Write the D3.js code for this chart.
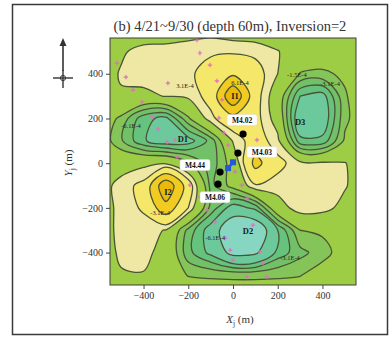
<!DOCTYPE html>
<html>
<head>
<meta charset="utf-8">
<script src="https://cdn.jsdelivr.net/npm/d3@7"></script>
<style>
  body { margin: 0; background: #fff; }
  svg { display: block; }
</style>
</head>
<body>
<svg id="chart" width="392" height="338"></svg>
<script>
// ---------- data ----------
const titleText = "(b) 4/21~9/30 (depth 60m), Inversion=2";

// grid nodes of the anomaly field (m)
const gridX = [-600, -500, -400, -300, -200, -100, 0, 100, 200, 300, 400, 500, 600];
const gridY = [600, 500, 400, 300, 200, 100, 0, -100, -200, -300, -400, -500, -600];

// field values at the grid nodes, units of 1E-4, northern row first
const fieldRows = [
  [0,   -0.3, -0.2, -0.1,  0.5,  0.8,  0.2,  0.0, -0.2,  0,    0,    0,   0],
  [0,    1.2,  2.2,  2.3,  2.4,  2.6,  2.7,  2.5,  1.6,  0.2, -0.3,  0,   0],
  [0.3,  1.7,  2.3,  2.4,  2.5,  4.2,  5.5,  4.0,  1.5, -1.6, -1.8, -1.2, 0],
  [0.2,  1.3,  1.0,  1.6,  1.9,  3.8, 12.0,  4.0,  0.0, -6.0, -6.8, -1.7, 0],
  [0,   -1.9, -5.5, -6.5, -1.8,  2.5,  4.8,  3.8,  0.5, -8.0, -7.5, -1.9, 0],
  [0,   -2.8, -5.8, -7.2, -6.8, -4.0,  1.7,  4.2,  2.0, -5.5, -5.5, -1.2, 0],
  [0.2,  0.5,  1.0,  1.2, -1.0, -4.0, -0.5,  7.0,  3.6,  2.0,  1.8,  1.6, 0],
  [0.5,  2.2,  3.6, 11.5,  4.5, -3.5, -0.8,  2.8,  2.3,  2.3,  2.1,  1.7, 0],
  [0.5,  2.0,  3.3,  8.0,  3.0, -3.5, -7.0, -5.5,  0.5,  2.4,  2.2,  0.8, 0],
  [0.5,  2.0,  2.1,  1.4, -3.5, -7.0, -12.0, -12.0, -6.0, -1.5, -1.2, -0.3, 0],
  [0.5,  1.8,  2.0,  0.8, -4.0, -6.5, -10.0, -9.5, -5.5, -3.5, -2.2, -0.5, 0],
  [0.3,  1.35, 1.4, -0.3, -1.6, -1.8, -1.9, -1.9, -1.8, -1.6, -0.5,  0,   0],
  [0,    0,    0,    0,    0,    0,    0,    0,    0,    0,    0,    0,   0]
];

// contour levels (1E-4) and the fill of each band, lowest first
const levels = [-9, -6, -4.5, -3, -1.5, 1.5, 3, 6, 9];
const bandColors = ["#86d6c2", "#6cc99c", "#66c37e", "#72c168", "#84c458",
                    "#9dcd45", "#eee8a4", "#f5e76a", "#f1cb22", "#e9b90c"];

const xTicks = [-400, -200, 0, 200, 400];
const yTicks = [400, 200, 0, -200, -400];

// monitoring stations
const stationNames = ["M4.02", "M4.03", "M4.44", "M4.06"];
const stationX = [45, 22, -58, -67];
const stationY = [130, 45, -40, -94];
// label box offsets (px) from each station dot
const stationLabelDX = [-1, 24, -25, -3];
const stationLabelDY = [-14, -1, -7, 13];

// injection points
const sourceX = [0, -22];
const sourceY = [4, -22];

// measurement points
const sampleX = [-161, -519, -479, -447, -407, -362, -335, -295, -259, -250, -148, -103, -72, -49, -63,
                 -40, -22, 9, 40, 63, -192, -148, -116, -80, -36, -13, 0, 89, 121, 134, 63, 152, 107, -291];
const sampleY = [551, 448, 385, 327, 274, 207, 153, 95, 104, 28, 493, 439, 368, 283, 202,
                 135, 81, -39, -98, -156, -98, -151, -209, -263, -335, -389, -433, -277, -397, -447, -509, -509, 104, 358];

// anomaly names
const anomalyNames = ["I1", "I2", "D1", "D2", "D3"];
const anomalyX = [9, -291, -224, 67, 300];
const anomalyY = [296, -134, 103, -308, 180];

// contour value tags
const tagText = ["3.1E-4", "-3.1E-4", "-6.1E-4", "6.1E-4", "-6.1E-4", "-3.1E-4", "-1.5E-4", "-3.1E-4"];
const tagX = [-215, -326, -456, 31, -80, 255, 286, 434];
const tagY = [345, -223, 162, 358, -335, -425, 390, 354];

// ---------- drawing ----------
const svg = d3.select("#chart");
const plot = { left: 110, right: 356, top: 38, bottom: 285 };
const x = d3.scaleLinear().domain([-550, 550]).range([plot.left, plot.right]);
const y = d3.scaleLinear().domain([-545, 560]).range([plot.bottom, plot.top]);
const serif = "'Liberation Serif', 'DejaVu Serif', serif";

// outer frame
svg.append("rect")
  .attr("x", 12.5).attr("y", 4.5).attr("width", 375).attr("height", 330)
  .attr("fill", "none").attr("stroke", "#3a3a3a").attr("stroke-width", 1.5);

svg.append("defs").append("clipPath").attr("id", "plotClip")
  .append("rect")
  .attr("x", plot.left).attr("y", plot.top)
  .attr("width", plot.right - plot.left).attr("height", plot.bottom - plot.top);

// contour bands
const nx = gridX.length, ny = gridY.length;
const contours = d3.contours().size([nx, ny]).thresholds(levels)(fieldRows.flat());
const gx = c => x(gridX[0] + (c - 0.5) * (gridX[1] - gridX[0]));
const gy = r => y(gridY[0] + (r - 0.5) * (gridY[1] - gridY[0]));
const ringLine = d3.line().curve(d3.curveCatmullRomClosed.alpha(0.5));
function contourPath(geom) {
  return geom.coordinates.map(poly =>
    poly.map(ring => ringLine(ring.slice(0, -1).map(([c, r]) => [gx(c), gy(r)]))).join("")
  ).join("");
}

const map = svg.append("g").attr("clip-path", "url(#plotClip)");
map.append("rect")
  .attr("x", plot.left).attr("y", plot.top)
  .attr("width", plot.right - plot.left).attr("height", plot.bottom - plot.top)
  .attr("fill", bandColors[0]);
map.selectAll("path.band").data(contours).join("path")
  .attr("class", "band")
  .attr("d", contourPath)
  .attr("fill", (d, i) => bandColors[i + 1])
  .attr("fill-rule", "evenodd");
map.selectAll("path.iso").data(contours).join("path")
  .attr("class", "iso")
  .attr("d", contourPath)
  .attr("fill", "none")
  .attr("stroke", "#4a5436")
  .attr("stroke-width", 1.3)
  .attr("stroke-linejoin", "round");

// measurement points
map.selectAll("path.sample").data(sampleX).join("path")
  .attr("class", "sample")
  .attr("transform", (d, i) => `translate(${x(d)},${y(sampleY[i])})`)
  .attr("d", "M-2.2,0H2.2M0,-2.2V2.2")
  .attr("stroke", "#e070c0").attr("stroke-width", 1.2);

// contour value tags
map.selectAll("text.tag").data(tagText).join("text")
  .attr("class", "tag")
  .attr("x", (d, i) => x(tagX[i])).attr("y", (d, i) => y(tagY[i]))
  .attr("text-anchor", "middle").attr("dominant-baseline", "middle")
  .attr("font-family", serif).attr("font-size", 6.5).attr("fill", "#222")
  .text(d => d);

// anomaly names
map.selectAll("text.anom").data(anomalyNames).join("text")
  .attr("class", "anom")
  .attr("x", (d, i) => x(anomalyX[i])).attr("y", (d, i) => y(anomalyY[i]))
  .attr("text-anchor", "middle").attr("dominant-baseline", "middle")
  .attr("font-family", serif).attr("font-size", 8.5).attr("font-weight", "bold").attr("fill", "#1a1a1a")
  .text(d => d);

// injection points
map.append("path")
  .attr("d", d3.line()(sourceX.map((d, i) => [x(d), y(sourceY[i])])))
  .attr("stroke", "#2a55d8").attr("stroke-width", 2.5);
map.selectAll("rect.src").data(sourceX).join("rect")
  .attr("class", "src")
  .attr("x", (d, i) => x(d) - 3).attr("y", (d, i) => y(sourceY[i]) - 3)
  .attr("width", 6).attr("height", 6)
  .attr("fill", "#2a55d8");

// stations
map.selectAll("circle.sta").data(stationNames).join("circle")
  .attr("class", "sta")
  .attr("cx", (d, i) => x(stationX[i])).attr("cy", (d, i) => y(stationY[i]))
  .attr("r", 3.6).attr("fill", "#000");
const staLabels = map.selectAll("g.staLabel").data(stationNames).join("g")
  .attr("class", "staLabel")
  .attr("transform", (d, i) => `translate(${x(stationX[i]) + stationLabelDX[i]},${y(stationY[i]) + stationLabelDY[i]})`);
staLabels.append("rect")
  .attr("x", -15).attr("y", -5.5).attr("width", 30).attr("height", 11).attr("rx", 2)
  .attr("fill", "#fff").attr("stroke", "#d8d8d8").attr("stroke-width", 0.5);
staLabels.append("text")
  .attr("text-anchor", "middle").attr("dominant-baseline", "central")
  .attr("font-family", serif).attr("font-size", 7.5).attr("font-weight", "bold").attr("fill", "#111")
  .text(d => d);

// plot border
svg.append("rect")
  .attr("x", plot.left).attr("y", plot.top)
  .attr("width", plot.right - plot.left).attr("height", plot.bottom - plot.top)
  .attr("fill", "none").attr("stroke", "#3d3d3d").attr("stroke-width", 1);

// axes
const xAxis = svg.append("g")
  .attr("transform", `translate(0,${plot.bottom})`)
  .call(d3.axisBottom(x).tickValues(xTicks).tickSize(4).tickPadding(3).tickFormat(d3.format("d")));
const yAxis = svg.append("g")
  .attr("transform", `translate(${plot.left},0)`)
  .call(d3.axisLeft(y).tickValues(yTicks).tickSize(4).tickPadding(3).tickFormat(d3.format("d")));
[xAxis, yAxis].forEach(a => {
  a.select(".domain").remove();
  a.selectAll(".tick line").attr("stroke", "#444");
  a.selectAll(".tick text").attr("font-family", serif).attr("font-size", 10).attr("fill", "#333");
});

// axis titles
const xTitle = svg.append("text")
  .attr("x", 240).attr("y", 323).attr("text-anchor", "middle")
  .attr("font-family", serif).attr("font-size", 11).attr("fill", "#333");
xTitle.append("tspan").attr("font-style", "italic").text("X");
xTitle.append("tspan").attr("font-size", 7.5).attr("dy", 2.5).text("j");
xTitle.append("tspan").attr("dy", -2.5).text(" (m)");

const yTitle = svg.append("text")
  .attr("transform", "translate(72,163) rotate(-90)").attr("text-anchor", "middle")
  .attr("font-family", serif).attr("font-size", 11).attr("fill", "#333");
yTitle.append("tspan").attr("font-style", "italic").text("Y");
yTitle.append("tspan").attr("font-size", 7.5).attr("dy", 2.5).text("j");
yTitle.append("tspan").attr("dy", -2.5).text(" (m)");

// title
const title = svg.append("text")
  .attr("x", 230).attr("y", 31).attr("text-anchor", "middle")
  .attr("font-family", serif).attr("font-size", 11.5).attr("fill", "#333")
  .text(titleText);
const tw = title.node().getComputedTextLength();
if (tw > 0) title.attr("font-size", 11.5 * 233 / tw);

// north arrow
const north = svg.append("g").attr("stroke", "#333").attr("fill", "#333");
north.append("path").attr("d", "M63,38 L59.5,46 L66.5,46 Z").attr("stroke", "none");
north.append("line").attr("x1", 63).attr("y1", 46).attr("x2", 63).attr("y2", 71).attr("stroke-width", 1.6);
north.append("line").attr("x1", 53).attr("y1", 78).attr("x2", 73).attr("y2", 78).attr("stroke-width", 1.4);
north.append("line").attr("x1", 63).attr("y1", 70).attr("x2", 63).attr("y2", 88).attr("stroke-width", 1.4);
north.append("circle").attr("cx", 63).attr("cy", 78).attr("r", 2.6).attr("fill", "none").attr("stroke-width", 1);
</script>
</body>
</html>
